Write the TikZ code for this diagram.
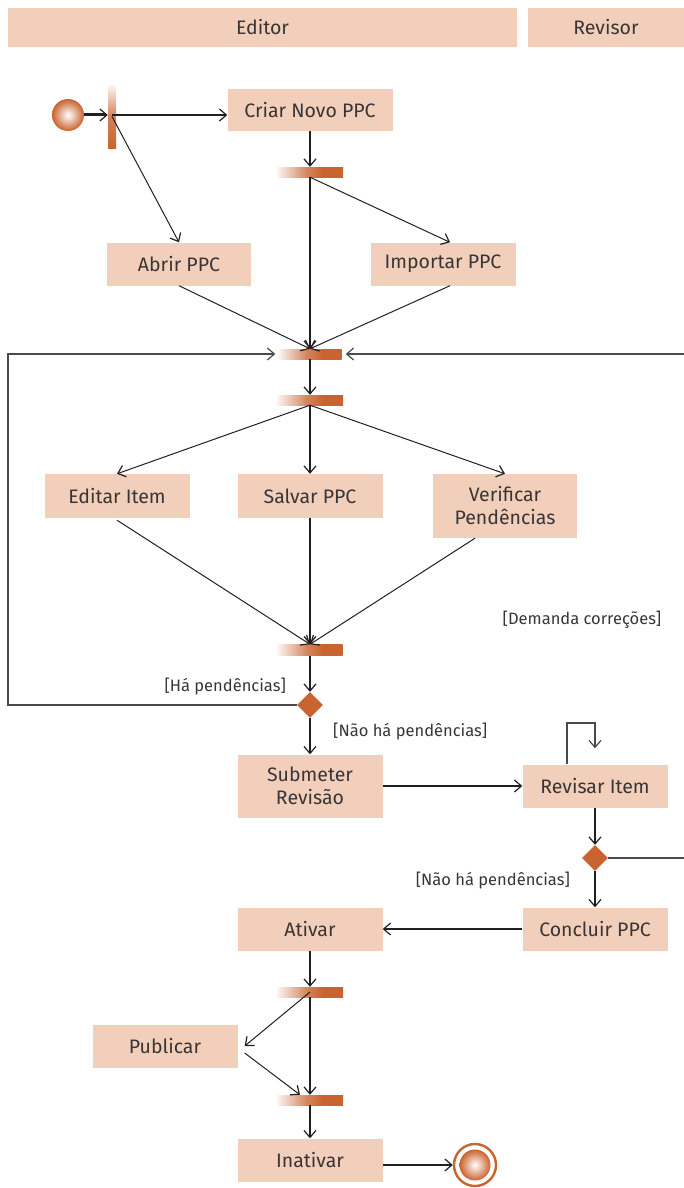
\documentclass[tikz,border=0pt]{standalone}
\usepackage{fontspec}
\setmainfont{Fira Sans}
\usetikzlibrary{positioning,shapes.geometric,arrows.meta}

\definecolor{lanefill}{HTML}{F2CFBA}
\definecolor{barorange}{HTML}{C9632F}
\definecolor{ink}{HTML}{231F20}
\definecolor{loopgray}{HTML}{4A4A4A}

\pgfdeclarehorizontalshading{hbarshade}{100bp}{color(0bp)=(barorange!6); color(25bp)=(barorange!6); color(48bp)=(barorange!80); color(60bp)=(barorange); color(100bp)=(barorange)}
\pgfdeclareverticalshading{vbarshade}{100bp}{color(0bp)=(barorange); color(25bp)=(barorange); color(50bp)=(barorange!80); color(75bp)=(barorange!6); color(100bp)=(barorange!6)}

\tikzset{
  action/.style={rectangle, fill=lanefill, text=ink!90, minimum width=145pt,
    minimum height=43pt, inner sep=0pt, align=center,
    font=\fontsize{19.5}{23}\selectfont},
  lane/.style={action, minimum height=39pt},
  hbar/.style={rectangle, minimum width=66pt, minimum height=10pt,
    inner sep=0pt, shading=hbarshade},
  vbar/.style={rectangle, minimum width=8pt, minimum height=63pt,
    inner sep=0pt, shading=vbarshade},
  decision/.style={diamond, fill=barorange, minimum size=26pt, inner sep=0pt},
  startdot/.style={circle, minimum size=32pt, inner sep=0pt,
    inner color=white, outer color=barorange},
  endring/.style={circle, minimum size=42pt, inner sep=0pt,
    draw=barorange, line width=2.4pt},
  guard/.style={text=ink!90, font=\fontsize{16.5}{19}\selectfont, inner sep=0pt},
  flow/.style={draw=ink, line width=1.8pt},
  thin/.style={draw=ink, line width=1pt},
  back/.style={draw=loopgray, line width=1.3pt},
  >={Straight Barb[length=7pt,width=12pt,line width=1.2pt]}
}

\begin{document}
\begin{tikzpicture}[x=1pt,y=-1pt]
  \useasboundingbox (0,0) rectangle (684,1188);

  % swimlane headers
  \node[lane, minimum width=509pt] (editorlane) at (262.5,27.5) {Editor};
  \node[lane, minimum width=156pt] (revisorlane) at (606,27.5) {Revisor};

  % start and first fork
  \node[startdot] (start) at (68,115) {};
  \node[vbar] (fork0) at (112,116.5) {};
  \node[action, minimum width=165pt, minimum height=42pt] (criar) at (310,110) {Criar Novo PPC};
  \node[hbar] (bar1) at (310,172) {};
  \node[action, minimum width=144pt] (abrir) at (179,264) {Abrir PPC};
  \node[action] (importar) at (443,264) {Importar PPC};

  % join, fork
  \node[hbar, minimum width=63pt] (join1) at (310,354) {};
  \node[hbar] (fork1) at (310,400) {};
  \node[action, minimum height=44pt] (editar) at (117,496) {Editar Item};
  \node[action, minimum height=44pt] (salvar) at (310,496) {Salvar PPC};
  \node[action, minimum width=144pt, minimum height=64pt] (verificar) at (505,506) {Verificar\\Pendências};
  \node[hbar, minimum width=65pt, minimum height=11pt] (join2) at (310,650) {};
  \node[decision] (dec1) at (310,705) {};

  % review
  \node[action, minimum height=63pt] (submeter) at (310,786) {Submeter\\Revisão};
  \node[action] (revisar) at (595,786) {Revisar Item};
  \node[decision] (dec2) at (595,858) {};
  \node[action] (concluir) at (595,929) {Concluir PPC};
  \node[action] (ativar) at (310,929) {Ativar};

  % publish
  \node[hbar] (fork3) at (310,992) {};
  \node[action] (publicar) at (165,1046) {Publicar};
  \node[hbar] (join3) at (310,1100) {};
  \node[action] (inativar) at (310,1160) {Inativar};
  \node[endring] (final) at (475,1165) {};
  \node[startdot, minimum size=31pt] (finaldot) at (final) {};

  % guards
  \node[guard, anchor=east] (gHa) at (286,687) {[Há pendências]};
  \node[guard, anchor=west] (gNao1) at (333,732) {[Não há pendências]};
  \node[guard] (gDemanda) at (582,620) {[Demanda correções]};
  \node[guard, anchor=east] (gNao2) at (570,881) {[Não há pendências]};

  % loop corners
  \coordinate (loopSW) at (8,705);
  \coordinate (loopNW) at (8,354);
  \coordinate (loopSE) at (687,858);
  \coordinate (loopNE) at (687,354);
  \coordinate (revloop) at (595,723);

  % connectors
  \draw[flow, line width=3pt, ->] (start.east) -- (start.east -| fork0.west);
  \draw[flow, ->] (fork0.center |- start) -- (start -| criar.west);
  \draw[thin, ->] (fork0.center) -- (abrir.north);
  \draw[flow, ->] (criar.south) -- (bar1.north);
  \draw[thin, ->] (bar1.south) -- ([xshift=7pt]importar.north);
  \draw[flow, ->] (bar1.south) -- (join1.north);
  \draw[thin, ->] (abrir.south) -- (join1.north);
  \draw[thin, ->] ([xshift=7pt]importar.south) -- (join1.north);
  \draw[back, ->] (dec1.west) -- (loopSW) -- (loopNW) -- ([xshift=-3pt]join1.west);
  \draw[back, ->] (dec2.east) -- (loopSE) -- (loopNE) -- ([xshift=4pt]join1.east);
  \draw[flow, ->] (join1.south) -- (fork1.north);
  \draw[thin, ->] (fork1.south) -- (editar.north);
  \draw[flow, ->] (fork1.south) -- (salvar.north);
  \draw[thin, ->] (fork1.south) -- (verificar.north);
  \draw[thin, ->] ([yshift=-2pt]editar.south) -- (join2.north);
  \draw[flow, ->] (salvar.south) -- (join2.north);
  \draw[thin, ->] ([xshift=-30pt]verificar.south) -- (join2.north);
  \draw[flow, ->] (join2.south) -- (dec1.north);
  \draw[flow, ->] (dec1.south) -- (submeter.north);
  \draw[flow, ->] (submeter.east) -- (revisar.west);
  \draw[back, ->] ([xshift=-28pt]revisar.north) |- (revloop) -- ([yshift=16pt]revisar.north);
  \draw[flow, ->] (revisar.south) -- (dec2.north);
  \draw[flow, ->] (dec2.south) -- (concluir.north);
  \draw[flow, ->] (concluir.west) -- (ativar.east);
  \draw[flow, ->] (ativar.south) -- (fork3.north);
  \draw[thin, ->] (fork3.center) -- ([xshift=7pt]publicar.east);
  \draw[flow, ->] (fork3.south) -- (join3.north);
  \draw[thin, ->] ([xshift=7pt,yshift=-7pt]publicar.east) -- ([xshift=-10pt]join3.north);
  \draw[flow, ->] (join3.south) -- (inativar.north);
  \draw[flow, ->] (inativar.east |- final) -- (final.west);
\end{tikzpicture}
\end{document}
